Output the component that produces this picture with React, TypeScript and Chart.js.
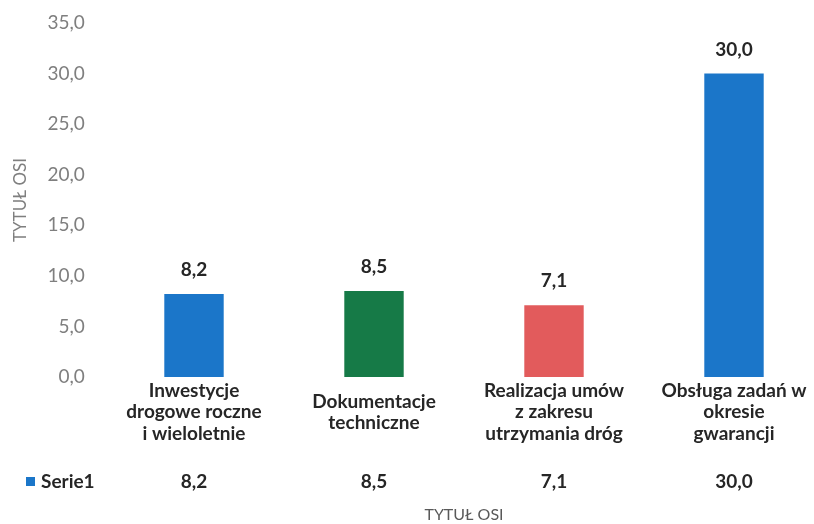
import React, { useEffect, useRef } from "react";
import { Chart, registerables } from "chart.js";

Chart.register(...registerables);

const categories: string[][] = [
  ["Inwestycje", "drogowe roczne", "i wieloletnie"],
  ["Dokumentacje", "techniczne"],
  ["Realizacja umów", "z zakresu", "utrzymania dróg"],
  ["Obsługa zadań w", "okresie", "gwarancji"],
];
const seriesName = "Serie1";
const values: number[] = [8.2, 8.5, 7.1, 30.0];
const barColors: string[] = ["#1b76c9", "#167a47", "#e25b5c"];
const yMin = 0;
const yMax = 35;
const yStep = 5;
const axisTitle = "TYTUŁ OSI";

const FONT = "Lato, 'Open Sans', sans-serif";
const fmt = (v: number) => v.toFixed(1).replace(".", ",");

const colorsFor = values.map((_, i) => (i === 3 ? barColors[0] : barColors[i]));

// plot frame of the original (partly cropped on the right)
const AREA = { left: 104, right: 824, top: 23, bottom: 377 };

const framePlugin = {
  id: "frame",
  afterLayout(chart: any) {
    const ca = chart.chartArea;
    ca.left = AREA.left;
    ca.right = AREA.right;
    ca.top = AREA.top;
    ca.bottom = AREA.bottom;
    ca.width = AREA.right - AREA.left;
    ca.height = AREA.bottom - AREA.top;
    const x = chart.scales.x;
    x.left = AREA.left;
    x.right = AREA.right;
    x.width = AREA.right - AREA.left;
    x.configure();
    const y = chart.scales.y;
    y.top = AREA.top;
    y.bottom = AREA.bottom;
    y.height = AREA.bottom - AREA.top;
    y.configure();
  },
};

const extrasPlugin = {
  id: "extras",
  afterDatasetsDraw(chart: any) {
    const ctx = chart.ctx;
    const meta = chart.getDatasetMeta(0);
    const xScale = chart.scales.x;
    ctx.save();
    ctx.font = `bold 19px ${FONT}`;
    ctx.fillStyle = "#262626";
    ctx.textAlign = "center";
    ctx.textBaseline = "middle";
    meta.data.forEach((bar: any, i: number) => {
      ctx.fillText(fmt(values[i]), bar.x, bar.y - 24);
    });
    // data table row
    const rowY = 482;
    values.forEach((v, i) => {
      ctx.fillText(fmt(v), xScale.getPixelForValue(i), rowY);
    });
    ctx.fillStyle = barColors[0];
    ctx.fillRect(26, rowY - 5, 9, 9);
    ctx.fillStyle = "#262626";
    ctx.textAlign = "left";
    ctx.fillText(seriesName, 41, rowY);
    ctx.restore();
  },
};

export default function App() {
  const ref = useRef<HTMLCanvasElement | null>(null);
  useEffect(() => {
    if (!ref.current) return;
    const chart = new Chart(ref.current, {
      type: "bar",
      data: {
        labels: categories as any,
        datasets: [
          {
            label: seriesName,
            data: values,
            backgroundColor: colorsFor,
            barPercentage: 1,
            categoryPercentage: 0.33,
          },
        ],
      },
      options: {
        animation: false,
        responsive: false,
        maintainAspectRatio: false,
        layout: { padding: { top: 5, right: 0, bottom: 0, left: 2 } },
        plugins: {
          legend: { display: false },
          tooltip: { enabled: false },
        },
        scales: {
          x: {
            grid: { display: false, drawTicks: false },
            border: { display: false },
            ticks: {
              color: "#262626",
              font: { family: FONT, size: 19, weight: "bold", lineHeight: 1.12 },
              padding: 8,
              maxRotation: 0,
              autoSkip: false,
              crossAlign: "center",
            } as any,
            title: {
              display: true,
              text: axisTitle,
              color: "#595959",
              font: { family: FONT, size: 16 },
              padding: { top: 42, bottom: 0 },
            },
          },
          y: {
            min: yMin,
            max: yMax,
            grid: { display: false, drawTicks: false },
            border: { display: false },
            ticks: {
              stepSize: yStep,
              color: "#7f7f7f",
              font: { family: FONT, size: 19 },
              padding: 19,
              callback: (v: any) => fmt(Number(v)),
            },
            title: {
              display: true,
              text: axisTitle,
              color: "#7f7f7f",
              font: { family: FONT, size: 17 },
              padding: { top: 8, bottom: -2 },
            },
          },
        },
      },
      plugins: [framePlugin, extrasPlugin],
    });
    return () => chart.destroy();
  }, []);
  return (
    <div style={{ position: "fixed", left: 0, top: 0, width: 814, height: 524, background: "#fff" }}>
      <canvas ref={ref} width={814} height={524} style={{ width: 814, height: 524 }} />
    </div>
  );
}
